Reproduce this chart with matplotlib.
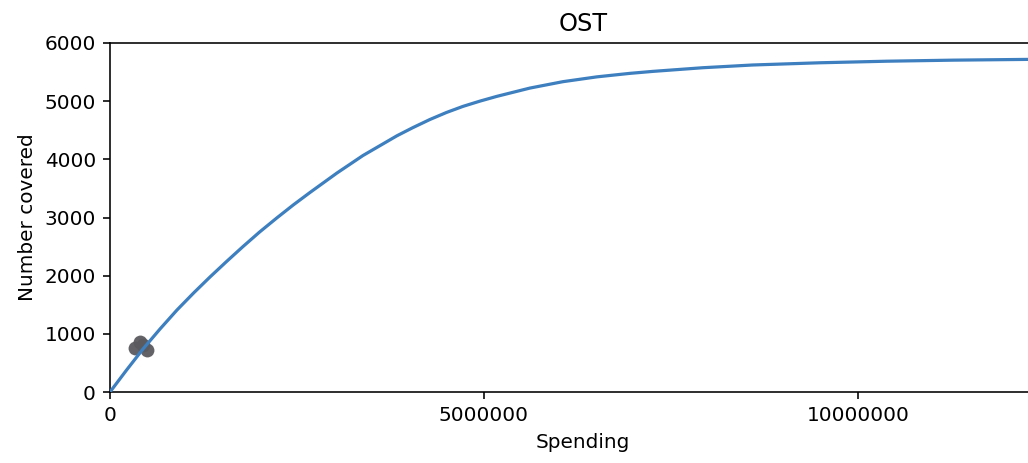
import matplotlib
matplotlib.use("Agg")
import matplotlib.pyplot as plt
from matplotlib.ticker import FuncFormatter

# fitted response curve: spending -> number covered
curve_spending = [0, 0.22e6, 0.441e6, 0.67e6, 0.896e6, 1.12e6, 1.337e6, 1.56e6,
                  1.778e6, 2.0e6, 2.233e6, 2.45e6, 2.674e6, 3.035e6, 3.382e6,
                  3.837e6, 4.05e6, 4.278e6, 4.5e6, 4.719e6, 4.95e6, 5.174e6,
                  5.615e6, 6.056e6, 6.511e6, 6.952e6, 7.259e6, 7.928e6, 8.596e6,
                  9.492e6, 10.388e6, 11.270e6, 12.260e6, 12.700e6]
curve_covered = [0, 375, 739, 1085, 1410, 1705, 1977, 2245,
                 2500, 2750, 2995, 3215, 3430, 3765, 4065,
                 4405, 4545, 4685, 4806, 4910, 5002, 5083,
                 5225, 5335, 5418, 5478, 5512, 5575, 5622,
                 5660, 5687, 5705, 5718, 5722]

# observed programme years
obs_spending = [0.334e6, 0.401e6, 0.441e6, 0.491e6]
obs_covered = [756, 865, 808, 722]

fig = plt.figure(figsize=(1028 / 144, 463 / 144), dpi=144)
ax = fig.add_axes([110 / 1028, 71 / 463, 946 / 1028, 349 / 463])

ax.scatter(obs_spending, obs_covered, s=48, color="#5b5b5f", alpha=0.95,
           linewidths=0, zorder=2)
ax.plot(curve_spending, curve_covered, color="#3d7fbf", lw=1.6, zorder=3)

ax.set_xlim(0, 12.65e6)
ax.set_ylim(0, 6000)
ax.set_xticks([0, 5000000, 10000000])
ax.set_yticks(range(0, 6001, 1000))
ax.xaxis.set_major_formatter(FuncFormatter(lambda v, p: f"{int(v)}"))

ax.set_title("OST")
ax.set_xlabel("Spending")
ax.set_ylabel("Number covered")

fig.savefig("out.png", dpi=144)
